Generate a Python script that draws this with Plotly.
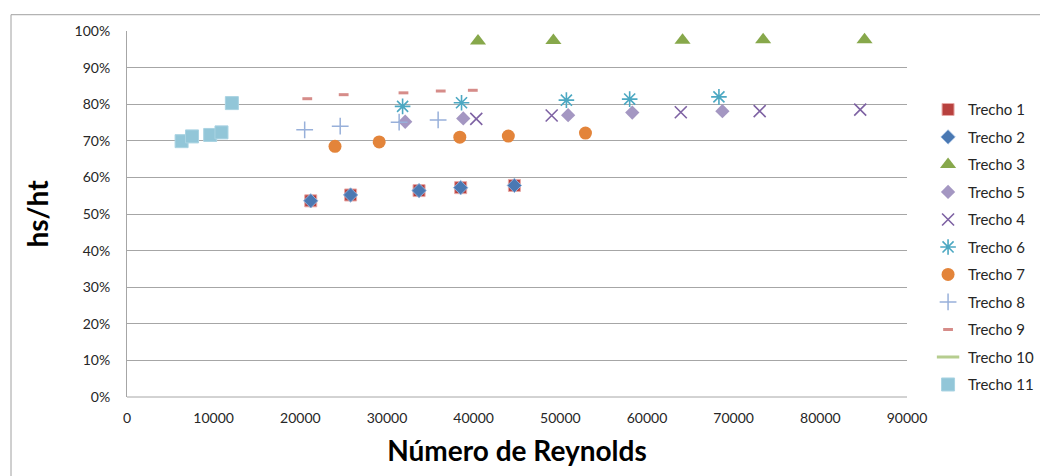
import plotly.graph_objects as go

# ---- data ----
t1_x = [21200, 25800, 33700, 38500, 44700]
t1_y = [0.536, 0.552, 0.564, 0.572, 0.578]
t2_x = [21200, 25800, 33700, 38500, 44700]
t2_y = [0.536, 0.552, 0.564, 0.572, 0.578]
t3_x = [40500, 49200, 64100, 73400, 85100]
t3_y = [0.973, 0.974, 0.975, 0.976, 0.976]
t5_x = [32100, 38800, 50900, 58300, 68700]
t5_y = [0.752, 0.761, 0.770, 0.777, 0.781]
t4_x = [40300, 49000, 63900, 73000, 84600]
t4_y = [0.760, 0.769, 0.778, 0.781, 0.785]
t6_x = [31800, 38600, 50700, 58000, 68300]
t6_y = [0.794, 0.804, 0.811, 0.814, 0.820]
t7_x = [24000, 29100, 38400, 44000, 52900]
t7_y = [0.685, 0.697, 0.710, 0.713, 0.721]
t8_x = [20500, 24600, 31400, 35900]
t8_y = [0.730, 0.740, 0.751, 0.757]
t9_x = [20800, 25000, 31900, 36200, 39900]
t9_y = [0.815, 0.826, 0.831, 0.836, 0.838]
t10_x = [None]
t10_y = [None]
t11_x = [6300, 7500, 9600, 10900, 12100]
t11_y = [0.699, 0.712, 0.716, 0.723, 0.803]

x_ticks = [0, 10000, 20000, 30000, 40000, 50000, 60000, 70000, 80000, 90000]
y_ticks = [0, 0.1, 0.2, 0.3, 0.4, 0.5, 0.6, 0.7, 0.8, 0.9, 1.0]

FONT = "Lato"

series = [
    ("Trecho 1", t1_x, t1_y, dict(symbol="square", size=12, color="#B8413E", line=dict(color="#E8A9A7", width=1))),
    ("Trecho 2", t2_x, t2_y, dict(symbol="diamond", size=11, color="#4A78B2", line=dict(color="#8FB0DA", width=1))),
    ("Trecho 3", t3_x, t3_y, dict(symbol="triangle-up", size=14, color="#87A84B", line=dict(width=0))),
    ("Trecho 5", t5_x, t5_y, dict(symbol="diamond", size=11, color="#A497C2", line=dict(width=0))),
    ("Trecho 4", t4_x, t4_y, dict(symbol="x-thin", size=12, color="#7E62A3", line=dict(color="#7E62A3", width=1.6))),
    ("Trecho 6", t6_x, t6_y, dict(symbol="asterisk", size=13, color="#4CA8C2", line=dict(color="#4CA8C2", width=1.6))),
    ("Trecho 7", t7_x, t7_y, dict(symbol="circle", size=13, color="#E3843A", line=dict(width=0))),
    ("Trecho 8", t8_x, t8_y, dict(symbol="cross-thin", size=12, color="#98B0DA", line=dict(color="#98B0DA", width=1.5))),
    ("Trecho 9", t9_x, t9_y, dict(symbol="line-ew", size=7, color="#D68C89", line=dict(color="#D68C89", width=3))),
    ("Trecho 10", t10_x, t10_y, dict(symbol="line-ew", size=16, color="#B6CD8F", line=dict(color="#B6CD8F", width=3))),
    ("Trecho 11", t11_x, t11_y, dict(symbol="square", size=13, color="#92C6D8", line=dict(color="#A9D3E2", width=1))),
]

fig = go.Figure()
for i, (name, xs, ys, mk) in enumerate(series):
    fig.add_trace(go.Scatter(
        x=xs, y=ys, mode="markers", name=name, marker=mk,
        legendgroup=f"g{i}", cliponaxis=False,
    ))

fig.update_layout(
    width=1040, height=476,
    margin=dict(l=127, r=133, t=31, b=79, autoexpand=False),
    paper_bgcolor="white", plot_bgcolor="white",
    font=dict(family=FONT, size=14, color="#262626"),
    legend=dict(
        x=1.027, xanchor="left", y=0.83, yanchor="top",
        font=dict(family=FONT, size=15, color="#262626"),
        tracegroupgap=5, bgcolor="rgba(0,0,0,0)",
    ),
    xaxis=dict(
        range=[0, 90000], tickvals=x_ticks, ticktext=[str(v) for v in x_ticks],
        showgrid=False, zeroline=False, showline=False,
        ticks="", ticklen=0, ticklabelstandoff=11,
        tickfont=dict(family=FONT, size=14, color="#262626"),
        title=dict(text="<b>Número de Reynolds</b>", font=dict(family=FONT, size=28, color="#000000"), standoff=16),
    ),
    yaxis=dict(
        range=[0, 1], tickvals=y_ticks, tickformat=".0%",
        showgrid=True, gridcolor="#A6A6A6", gridwidth=1,
        zeroline=False, showline=True, linecolor="#A6A6A6", linewidth=1,
        ticks="", ticklen=0, ticklabelstandoff=13,
        tickfont=dict(family=FONT, size=14, color="#262626"),
        title=dict(text="<b>hs/ht</b>", font=dict(family=FONT, size=28, color="#000000"), standoff=17),
    ),
    shapes=[
        dict(type="line", xref="paper", yref="paper", x0=0, x1=1, y0=0, y1=0,
             line=dict(color="#A6A6A6", width=1), layer="below"),
        dict(type="rect", xref="paper", yref="paper",
             x0=-0.1487, x1=1.3, y0=-0.4, y1=1.0445,
             line=dict(color="#A0A0A0", width=1), fillcolor="rgba(0,0,0,0)", layer="below"),
    ],
)

fig.write_html("out.html")
